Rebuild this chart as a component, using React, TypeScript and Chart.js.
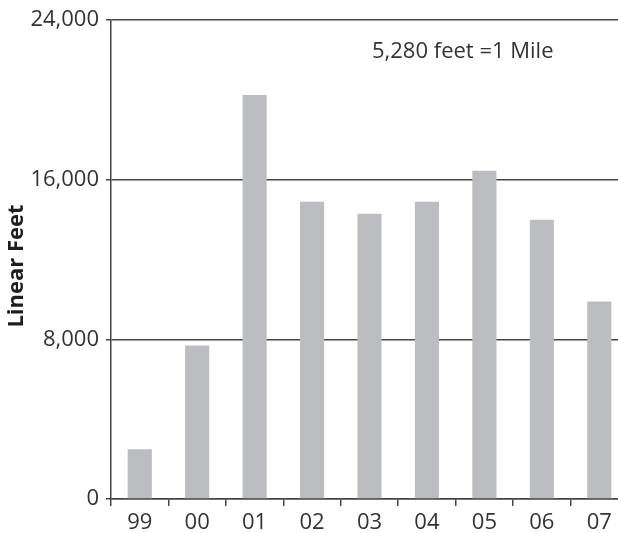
import React, { useEffect, useRef } from "react";
import { Chart, registerables } from "chart.js";

Chart.register(...registerables);

const years: string[] = ["99", "00", "01", "02", "03", "04", "05", "06", "07"];
const linearFeet: number[] = [2500, 7700, 20250, 14900, 14300, 14900, 16450, 14000, 9900];
const yTicks: number[] = [0, 8000, 16000, 24000];
const yTitle = "Linear Feet";
const note = "5,280 feet =1 Mile";

const FONT = "'Open Sans', 'Noto Sans', sans-serif";
const AXIS = "#454545";
const TEXT = "#333333";

export default function App() {
  const ref = useRef<HTMLCanvasElement | null>(null);

  useEffect(() => {
    if (!ref.current) return;
    const textPlugin = {
      id: "textPlugin",
      afterDraw(chart: any) {
        const { ctx } = chart;
        ctx.save();
        ctx.font = `22px ${FONT}`;
        ctx.fillStyle = TEXT;
        ctx.textAlign = "left";
        ctx.textBaseline = "alphabetic";
        ctx.fillText(note, 372, 58);
        ctx.restore();

        ctx.save();
        ctx.translate(17, 266);
        ctx.rotate(-Math.PI / 2);
        ctx.font = `bold 22px ${FONT}`;
        ctx.fillStyle = "#1e1e1e";
        ctx.textAlign = "center";
        ctx.textBaseline = "middle";
        ctx.fillText(yTitle, 0, 0);
        ctx.restore();
      },
    };
    const chart = new Chart(ref.current, {
      type: "bar",
      data: {
        labels: years,
        datasets: [
          {
            data: linearFeet,
            backgroundColor: "#bcbdc1",
            borderWidth: 0,
            categoryPercentage: 1,
            barPercentage: 0.42,
          },
        ],
      },
      options: {
        responsive: false,
        animation: false,
        layout: { padding: { top: 18, left: 0, right: 0, bottom: 0 } },
        plugins: { legend: { display: false }, tooltip: { enabled: false }, title: { display: false } },
        scales: {
          x: {
            offset: true,
            grid: {
              display: true,
              offset: true,
              drawOnChartArea: false,
              drawTicks: true,
              tickLength: 7,
              color: AXIS,
              lineWidth: 1.5,
            },
            border: { display: true, color: AXIS, width: 1.5 },
            ticks: { color: TEXT, font: { family: FONT, size: 22 }, padding: 4, maxRotation: 0 },
            afterFit(scale: any) {
              scale.height = 34;
            },
          },
          y: {
            min: 0,
            max: 24000,
            afterBuildTicks(scale: any) {
              scale.ticks = yTicks.map((v) => ({ value: v }));
            },
            grid: {
              display: true,
              drawOnChartArea: true,
              drawTicks: true,
              tickLength: 5,
              color: AXIS,
              lineWidth: 1.5,
            },
            border: { display: true, color: AXIS, width: 1.5 },
            ticks: {
              color: TEXT,
              font: { family: FONT, size: 22 },
              padding: 7,
              callback: (v: any) => Number(v).toLocaleString("en-US"),
            },
            title: { display: false },
            afterFit(scale: any) {
              scale.width = 111;
            },
          },
        },
      },
      plugins: [textPlugin],
    });
    return () => chart.destroy();
  }, []);

  return (
    <div
      style={{
        position: "fixed",
        left: 0,
        top: 0,
        width: 618,
        height: 533,
        overflow: "hidden",
        background: "#fff",
      }}
    >
      <canvas ref={ref} width={628} height={533} style={{ width: 628, height: 533, display: "block" }} />
    </div>
  );
}
